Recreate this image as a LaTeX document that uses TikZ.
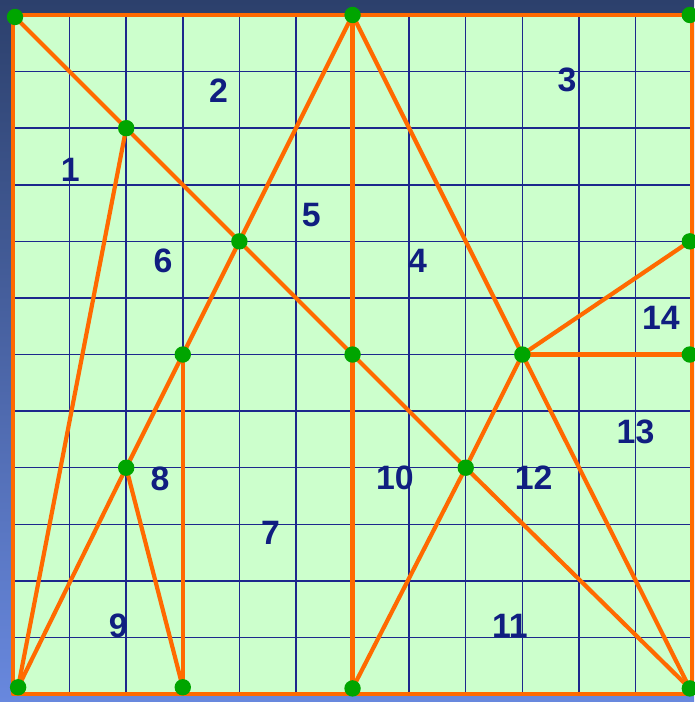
\documentclass[tikz,border=0pt]{standalone}
\usepackage{fontspec}
\setmainfont{Liberation Sans}
\definecolor{bgtop}{RGB}{44,64,108}
\definecolor{bgbottom}{RGB}{104,136,222}
\definecolor{cellgreen}{RGB}{204,255,204}
\definecolor{gridblue}{RGB}{28,40,140}
\definecolor{edgeorange}{RGB}{255,106,0}
\definecolor{dotgreen}{RGB}{0,165,0}
\definecolor{numblue}{RGB}{16,30,128}

\begin{document}
\begin{tikzpicture}[
  gridline/.style={draw=gridblue, line width=0.75pt},
  edge/.style={draw=edgeorange, line width=2.1pt, line cap=round, line join=round},
  num/.style={text=numblue, font=\bfseries\fontsize{17}{17}\selectfont}
]
\useasboundingbox (-0.23,-0.14) rectangle (12.035,12.265);
\shade[top color=bgtop, bottom color=bgbottom] (-0.23,-0.14) rectangle (12.035,12.265);
\fill[cellgreen] (0,0) rectangle (12,12);
\draw[gridline] (0,0) grid (12,12);

% vertices of the subdivision
\coordinate (pA) at (0.035,11.965);
\coordinate (pB) at (6,12);
\coordinate (pC) at (11.96,12);
\coordinate (pD) at (2,10);
\coordinate (pE) at (4,8);
\coordinate (pF) at (3,6);
\coordinate (pG) at (6,6);
\coordinate (pH) at (2,4);
\coordinate (pI) at (8,4);
\coordinate (pJ) at (9,6);
\coordinate (pK) at (11.96,8);
\coordinate (pL) at (11.96,6);
\coordinate (pM) at (0.09,0.12);
\coordinate (pN) at (3,0.12);
\coordinate (pO) at (6,0.1);
\coordinate (pP) at (11.96,0.1);

\draw[edge] (0,0) rectangle (12,12);
\draw[edge] (pA) -- (pD) -- (pE) -- (pG) -- (pI) -- (pP);
\draw[edge] (pD) -- (pM);
\draw[edge] (pB) -- (pE) -- (pF) -- (pH) -- (pM);
\draw[edge] (pB) -- (pG) -- (pO);
\draw[edge] (pB) -- (pJ) -- (pP);
\draw[edge] (pJ) -- (pK);
\draw[edge] (pJ) -- (pL);
\draw[edge] (pJ) -- (pI) -- (pO);
\draw[edge] (pF) -- (pN);
\draw[edge] (pH) -- (pN);

\foreach \p in {pA,pB,pC,pD,pE,pF,pG,pH,pI,pJ,pK,pL,pM,pN,pO,pP} {
    \fill[dotgreen] (\p) circle (0.145);
}

% region numbers
\foreach \x/\y/\t in {1.01/9.26/1, 3.63/10.67/2, 9.79/10.85/3, 7.15/7.66/4,
    5.27/8.46/5, 2.65/7.66/6, 4.55/2.85/7, 2.60/3.81/8, 1.86/1.2/9,
    6.75/3.82/10, 8.78/1.2/11, 9.2/3.82/12, 11.0/4.63/13, 11.45/6.64/14} {
    \node[num] (r\t) at (\x,\y) {\t};
}
\end{tikzpicture}
\end{document}
